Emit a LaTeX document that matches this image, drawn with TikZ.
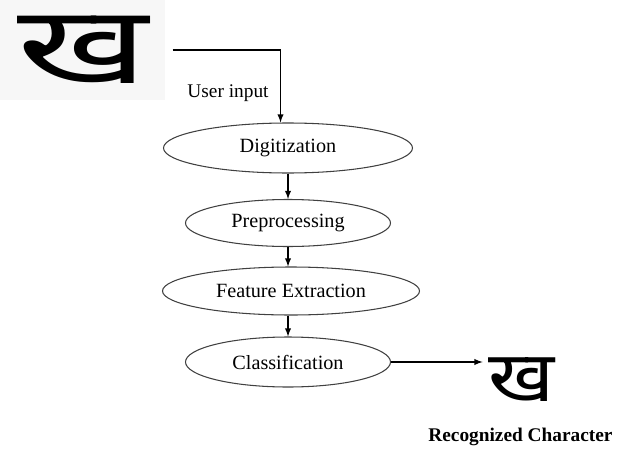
\documentclass[tikz,border=0pt]{standalone}
\usepackage{fontspec}
\setmainfont{Liberation Serif}
\newfontfamily\deva[Script=Devanagari]{Noto Sans}
\usetikzlibrary{shapes.geometric}

\begin{document}
\begin{tikzpicture}[>=latex, line width=0.6pt,
  stage/.style={ellipse, draw=black!75, inner sep=0pt, font=\fontsize{11.5}{13}\selectfont}]
\useasboundingbox (0,0) rectangle (12.36,9);
\node[fill=black!3, minimum width=3.3cm, minimum height=2cm, inner sep=0pt] (inp) at (1.65,8) {\scalebox{1.3}[0.88]{\deva\fontsize{70}{70}\selectfont ख}};
\node[font=\fontsize{11}{13}\selectfont] (usr) at (4.56,7.14) {User input};
\node[stage, minimum width=4.98cm, minimum height=1cm] (dig) at (5.76,6.04) {Digitization};
\node[stage, minimum width=4.1cm, minimum height=0.94cm] (pre) at (5.76,4.54) {Preprocessing};
\node[stage, minimum width=5.14cm, minimum height=0.96cm] (fea) at (5.82,3.18) {Feature Extraction};
\node[stage, minimum width=4.1cm, minimum height=1cm] (cls) at (5.76,1.76) {Classification};
\node (out) at (10.44,1.4) {\scalebox{1.15}[1]{\deva\bfseries\fontsize{40}{40}\selectfont ख}};
\node[anchor=west, font=\bfseries\fontsize{11}{13}\selectfont] (rec) at (8.44,0.26) {Recognized Character};
\draw[->] ([xshift=1.4mm]inp.east) -| ([xshift=-1.5mm]dig.north);
\draw[->] (dig.south) -- (dig.south |- pre.north);
\draw[->] (pre.south) -- (pre.south |- fea.north);
\draw[->] (fea.south -| cls.north) -- (cls.north);
\draw[->] (cls.east) -- (cls.east -| out.west);
\end{tikzpicture}
\end{document}
